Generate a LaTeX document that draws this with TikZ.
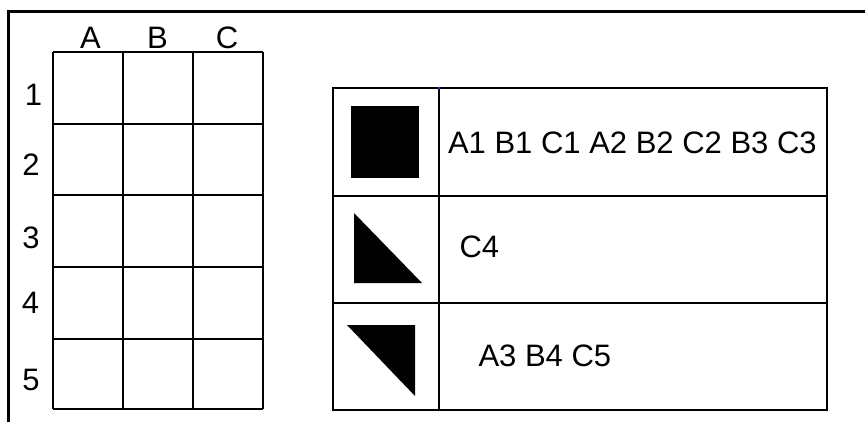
\documentclass[tikz,border=0pt]{standalone}
\usepackage{fontspec}
\setmainfont{Liberation Sans}
\begin{document}
\begin{tikzpicture}[x=1pt,y=-1pt,
  lbl/.style={inner sep=0pt,outer sep=0pt,font=\fontsize{31}{36}\selectfont},
  gridline/.style={line width=1.9pt,black},
  frameline/.style={line width=3pt,black,line cap=rect},
  shapefill/.style={fill=black,draw=none}]
\useasboundingbox (0,0) rectangle (865,421);
% frame
\draw[frameline] (8,421) -- (8,11) -- (865,11);
% left grid
\foreach \x in {53,123,193,263} \draw[gridline] (\x,52) -- (\x,409);
\foreach \y in {52,124,195,267,339,409} \draw[gridline] (53,\y) -- (263,\y);
% column labels
\node[lbl,anchor=base] (colA) at (90.5,48) {A};
\node[lbl,anchor=base] (colB) at (157.5,48) {B};
\node[lbl,anchor=base] (colC) at (227,48) {C};
% row labels
\node[lbl,anchor=base east] (row1) at (42,105) {1};
\node[lbl,anchor=base east] (row2) at (39.5,175) {2};
\node[lbl,anchor=base east] (row3) at (39.5,248) {3};
\node[lbl,anchor=base east] (row4) at (39,313) {4};
\node[lbl,anchor=base east] (row5) at (39.5,390) {5};
% legend table
\draw[gridline] (333,88) rectangle (827,410);
\draw[gridline] (439,88) -- (439,410);
\draw[gridline] (333,196) -- (827,196);
\draw[gridline] (333,303) -- (827,303);
\fill[blue!60!gray] (439,88) circle (1.3);
% shapes
\fill[shapefill] (351,106) rectangle (419,178);
\fill[shapefill] (354,213) -- (354,283) -- (422,283) -- cycle;
\fill[shapefill] (347,325) -- (415,325) -- (415,396) -- cycle;
% texts
\node[lbl,anchor=base west] (t1) at (448,153) {A1 B1 C1 A2 B2 C2 B3 C3};
\node[lbl,anchor=base west] (t2) at (459.5,257) {C4};
\node[lbl,anchor=base west] (t3) at (478.5,366) {A3 B4 C5};
\end{tikzpicture}
\end{document}
